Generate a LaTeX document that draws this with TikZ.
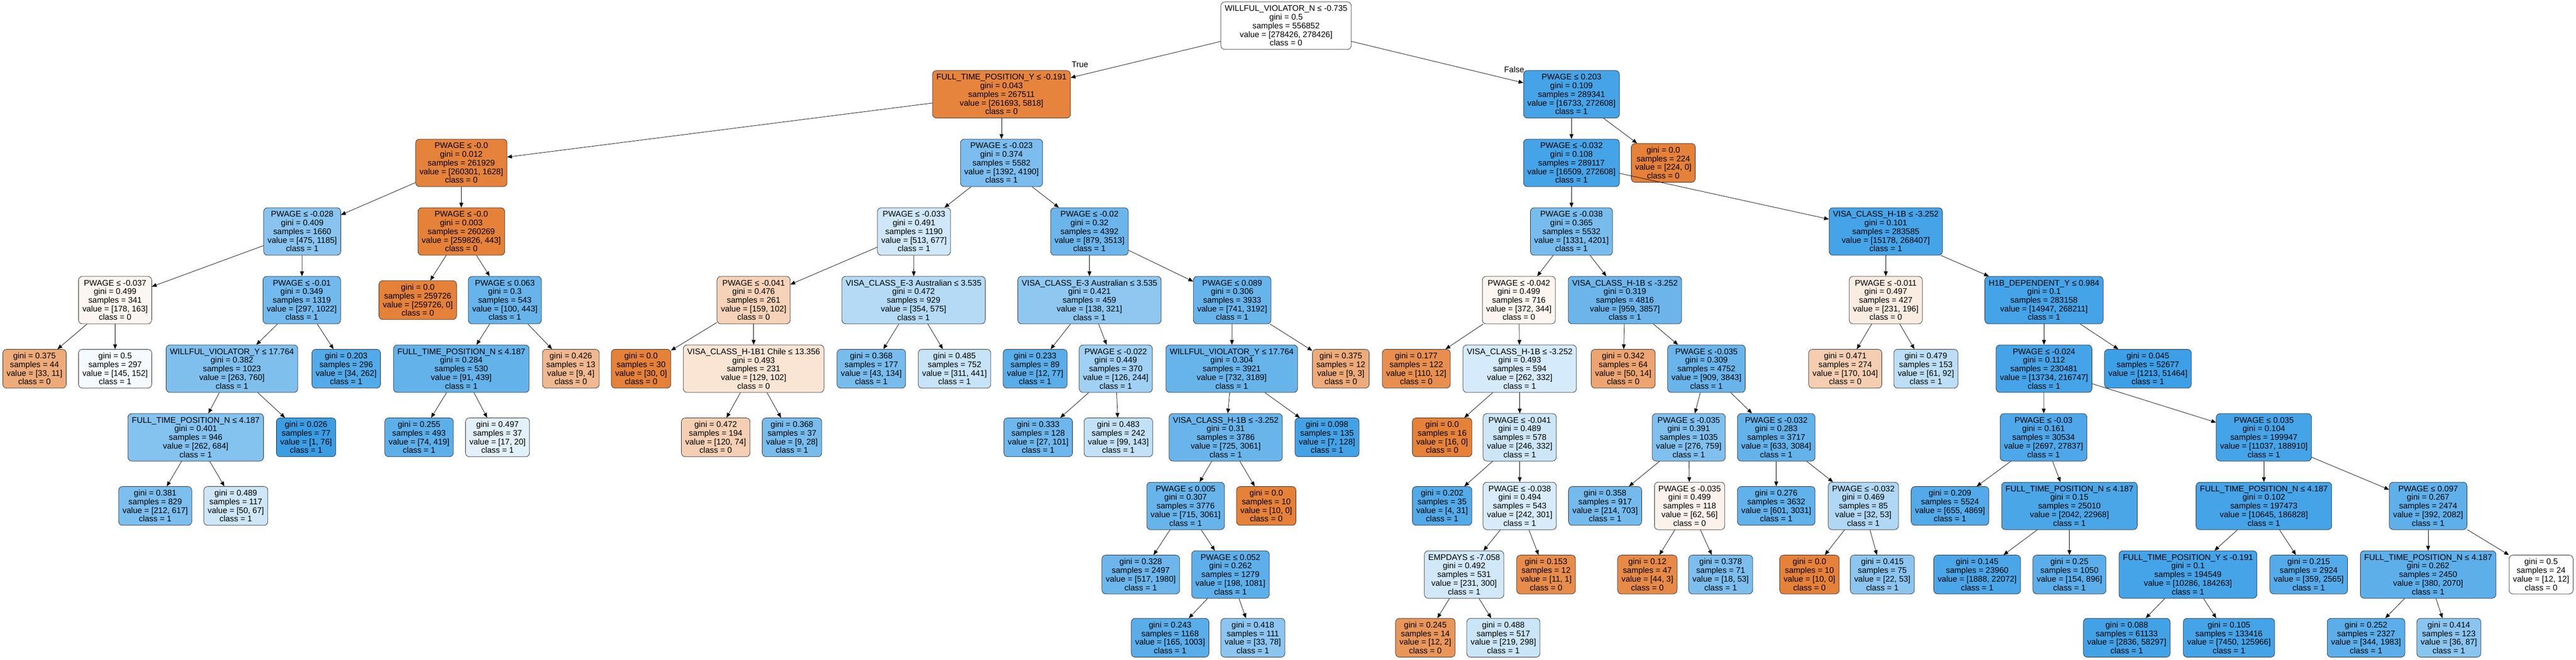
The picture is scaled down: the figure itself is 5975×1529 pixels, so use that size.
\documentclass[tikz,border=0pt]{standalone}
\usepackage{fontspec}
\usepackage{xcolor}
\usepackage{tikz}
\usetikzlibrary{arrows.meta}

\newfontfamily\treefont{Liberation Sans}
\newcommand{\treefnt}{\treefont\fontsize{19}{20}\selectfont}
\definecolor{cls0}{HTML}{E58139}
\definecolor{cls1}{HTML}{399DE5}

\tikzset{
  split/.style={draw=black!85, line width=0.9pt, rounded corners=9pt, align=center,
    font=\treefnt, inner xsep=9pt, inner ysep=2pt, minimum height=110pt},
  leaf/.style={split, minimum height=90pt},
  edge/.style={-{Triangle[length=11pt,width=9pt]}, line width=0.9pt},
  elabel/.style={font=\treefnt, inner sep=0pt}
}

\begin{document}
\begin{tikzpicture}[x=1pt,y=-1pt]
  \fill[white] (0,0) rectangle (5975,1529);
  \useasboundingbox (0,0) rectangle (5975,1529);

  % level 0
  \node[split, fill=white] (R) at (2983,59.5) {WILLFUL\_VIOLATOR\_N ≤ -0.735\\gini = 0.5\\samples = 556852\\value = [278426, 278426]\\class = 0};

  % level 1
  \node[split, fill=cls0!98] (n1) at (2323,218.5) {FULL\_TIME\_POSITION\_Y ≤ -0.191\\gini = 0.043\\samples = 267511\\value = [261693, 5818]\\class = 0};
  \node[split, fill=cls1!94] (n2) at (3645,218.5) {PWAGE ≤ 0.203\\gini = 0.109\\samples = 289341\\value = [16733, 272608]\\class = 1};

  % level 2
  \node[split, fill=cls0!99] (n3) at (1070,377.5) {PWAGE ≤ -0.0\\gini = 0.012\\samples = 261929\\value = [260301, 1628]\\class = 0};
  \node[split, fill=cls1!67] (n4) at (2323,377.5) {PWAGE ≤ -0.023\\gini = 0.374\\samples = 5582\\value = [1392, 4190]\\class = 1};
  \node[split, fill=cls1!94] (n5) at (3645,377.5) {PWAGE ≤ -0.032\\gini = 0.108\\samples = 289117\\value = [16509, 272608]\\class = 1};
  \node[leaf, fill=cls0] (n6) at (3858,377.5) {gini = 0.0\\samples = 224\\value = [224, 0]\\class = 0};

  % level 3
  \node[split, fill=cls1!60] (n7) at (701,536.5) {PWAGE ≤ -0.028\\gini = 0.409\\samples = 1660\\value = [475, 1185]\\class = 1};
  \node[split, fill=cls0] (n8) at (1070,536.5) {PWAGE ≤ -0.0\\gini = 0.003\\samples = 260269\\value = [259826, 443]\\class = 0};
  \node[split, fill=cls1!24] (n9) at (2120,536.5) {PWAGE ≤ -0.033\\gini = 0.491\\samples = 1190\\value = [513, 677]\\class = 1};
  \node[split, fill=cls1!75] (n10) at (2527,536.5) {PWAGE ≤ -0.02\\gini = 0.32\\samples = 4392\\value = [879, 3513]\\class = 1};
  \node[split, fill=cls1!68] (n11) at (3645,536.5) {PWAGE ≤ -0.038\\gini = 0.365\\samples = 5532\\value = [1331, 4201]\\class = 1};
  \node[split, fill=cls1!94] (n12) at (4374,536.5) {VISA\_CLASS\_H-1B ≤ -3.252\\gini = 0.101\\samples = 283585\\value = [15178, 268407]\\class = 1};

  % level 4
  \node[split, fill=cls0!8] (n13) at (267,695.5) {PWAGE ≤ -0.037\\gini = 0.499\\samples = 341\\value = [178, 163]\\class = 0};
  \node[split, fill=cls1!71] (n14) at (700,695.5) {PWAGE ≤ -0.01\\gini = 0.349\\samples = 1319\\value = [297, 1022]\\class = 1};
  \node[leaf, fill=cls0] (n15) at (969,695.5) {gini = 0.0\\samples = 259726\\value = [259726, 0]\\class = 0};
  \node[split, fill=cls1!77] (n16) at (1171,695.5) {PWAGE ≤ 0.063\\gini = 0.3\\samples = 543\\value = [100, 443]\\class = 1};
  \node[split, fill=cls0!36] (n17) at (1748,695.5) {PWAGE ≤ -0.041\\gini = 0.476\\samples = 261\\value = [159, 102]\\class = 0};
  \node[split, fill=cls1!38] (n18) at (2119,695.5) {VISA\_CLASS\_E-3 Australian ≤ 3.535\\gini = 0.472\\samples = 929\\value = [354, 575]\\class = 1};
  \node[split, fill=cls1!57] (n19) at (2527,695.5) {VISA\_CLASS\_E-3 Australian ≤ 3.535\\gini = 0.421\\samples = 459\\value = [138, 321]\\class = 1};
  \node[split, fill=cls1!77] (n20) at (2858,695.5) {PWAGE ≤ 0.089\\gini = 0.306\\samples = 3933\\value = [741, 3192]\\class = 1};
  \node[split, fill=cls0!8] (n21) at (3523,695.5) {PWAGE ≤ -0.042\\gini = 0.499\\samples = 716\\value = [372, 344]\\class = 0};
  \node[split, fill=cls1!75] (n22) at (3769,695.5) {VISA\_CLASS\_H-1B ≤ -3.252\\gini = 0.319\\samples = 4816\\value = [959, 3857]\\class = 1};
  \node[split, fill=cls0!15] (n23) at (4374,695.5) {PWAGE ≤ -0.011\\gini = 0.497\\samples = 427\\value = [231, 196]\\class = 0};
  \node[split, fill=cls1!94] (n24) at (4741,695.5) {H1B\_DEPENDENT\_Y ≤ 0.984\\gini = 0.1\\samples = 283158\\value = [14947, 268211]\\class = 1};

  % level 5
  \node[leaf, fill=cls0!67] (n25) at (80,854.5) {gini = 0.375\\samples = 44\\value = [33, 11]\\class = 0};
  \node[leaf, fill=cls1!5] (n26) at (267,854.5) {gini = 0.5\\samples = 297\\value = [145, 152]\\class = 1};
  \node[split, fill=cls1!65] (n27) at (538,854.5) {WILLFUL\_VIOLATOR\_Y ≤ 17.764\\gini = 0.382\\samples = 1023\\value = [263, 760]\\class = 1};
  \node[leaf, fill=cls1!87] (n28) at (803,854.5) {gini = 0.203\\samples = 296\\value = [34, 262]\\class = 1};
  \node[split, fill=cls1!79] (n29) at (1070,854.5) {FULL\_TIME\_POSITION\_N ≤ 4.187\\gini = 0.284\\samples = 530\\value = [91, 439]\\class = 1};
  \node[leaf, fill=cls0!56] (n30) at (1324,854.5) {gini = 0.426\\samples = 13\\value = [9, 4]\\class = 0};
  \node[leaf, fill=cls0] (n31) at (1487,854.5) {gini = 0.0\\samples = 30\\value = [30, 0]\\class = 0};
  \node[split, fill=cls0!21] (n32) at (1748,854.5) {VISA\_CLASS\_H-1B1 Chile ≤ 13.356\\gini = 0.493\\samples = 231\\value = [129, 102]\\class = 0};
  \node[leaf, fill=cls1!68] (n33) at (2021,854.5) {gini = 0.368\\samples = 177\\value = [43, 134]\\class = 1};
  \node[leaf, fill=cls1!29] (n34) at (2214,854.5) {gini = 0.485\\samples = 752\\value = [311, 441]\\class = 1};
  \node[leaf, fill=cls1!84] (n35) at (2401,854.5) {gini = 0.233\\samples = 89\\value = [12, 77]\\class = 1};
  \node[split, fill=cls1!48] (n36) at (2588,854.5) {PWAGE ≤ -0.022\\gini = 0.449\\samples = 370\\value = [126, 244]\\class = 1};
  \node[split, fill=cls1!77] (n37) at (2857,854.5) {WILLFUL\_VIOLATOR\_Y ≤ 17.764\\gini = 0.304\\samples = 3921\\value = [732, 3189]\\class = 1};
  \node[leaf, fill=cls0!67] (n38) at (3110,854.5) {gini = 0.375\\samples = 12\\value = [9, 3]\\class = 0};
  \node[leaf, fill=cls0!89] (n39) at (3285,854.5) {gini = 0.177\\samples = 122\\value = [110, 12]\\class = 0};
  \node[split, fill=cls1!21] (n40) at (3525,854.5) {VISA\_CLASS\_H-1B ≤ -3.252\\gini = 0.493\\samples = 594\\value = [262, 332]\\class = 1};
  \node[leaf, fill=cls0!72] (n41) at (3765,854.5) {gini = 0.342\\samples = 64\\value = [50, 14]\\class = 0};
  \node[split, fill=cls1!76] (n42) at (3958,854.5) {PWAGE ≤ -0.035\\gini = 0.309\\samples = 4752\\value = [909, 3843]\\class = 1};
  \node[leaf, fill=cls0!39] (n43) at (4280,854.5) {gini = 0.471\\samples = 274\\value = [170, 104]\\class = 0};
  \node[leaf, fill=cls1!34] (n44) at (4467,854.5) {gini = 0.479\\samples = 153\\value = [61, 92]\\class = 1};
  \node[split, fill=cls1!94] (n45) at (4741,854.5) {PWAGE ≤ -0.024\\gini = 0.112\\samples = 230481\\value = [13734, 216747]\\class = 1};
  \node[leaf, fill=cls1!98] (n46) at (4982,854.5) {gini = 0.045\\samples = 52677\\value = [1213, 51464]\\class = 1};

  % level 6
  \node[split, fill=cls1!62] (n47) at (454,1013.5) {FULL\_TIME\_POSITION\_N ≤ 4.187\\gini = 0.401\\samples = 946\\value = [262, 684]\\class = 1};
  \node[leaf, fill=cls1!99] (n48) at (710,1013.5) {gini = 0.026\\samples = 77\\value = [1, 76]\\class = 1};
  \node[leaf, fill=cls1!82] (n49) at (972,1013.5) {gini = 0.255\\samples = 493\\value = [74, 419]\\class = 1};
  \node[leaf, fill=cls1!15] (n50) at (1154,1013.5) {gini = 0.497\\samples = 37\\value = [17, 20]\\class = 1};
  \node[leaf, fill=cls0!38] (n51) at (1660,1013.5) {gini = 0.472\\samples = 194\\value = [120, 74]\\class = 0};
  \node[leaf, fill=cls1!68] (n52) at (1837,1013.5) {gini = 0.368\\samples = 37\\value = [9, 28]\\class = 1};
  \node[leaf, fill=cls1!73] (n53) at (2408,1013.5) {gini = 0.333\\samples = 128\\value = [27, 101]\\class = 1};
  \node[leaf, fill=cls1!31] (n54) at (2594,1013.5) {gini = 0.483\\samples = 242\\value = [99, 143]\\class = 1};
  \node[split, fill=cls1!76] (n55) at (2843,1013.5) {VISA\_CLASS\_H-1B ≤ -3.252\\gini = 0.31\\samples = 3786\\value = [725, 3061]\\class = 1};
  \node[leaf, fill=cls1!95] (n56) at (3078,1013.5) {gini = 0.098\\samples = 135\\value = [7, 128]\\class = 1};
  \node[leaf, fill=cls0] (n57) at (3345,1013.5) {gini = 0.0\\samples = 16\\value = [16, 0]\\class = 0};
  \node[split, fill=cls1!26] (n58) at (3525,1013.5) {PWAGE ≤ -0.041\\gini = 0.489\\samples = 578\\value = [246, 332]\\class = 1};
  \node[split, fill=cls1!64] (n59) at (3917,1013.5) {PWAGE ≤ -0.035\\gini = 0.391\\samples = 1035\\value = [276, 759]\\class = 1};
  \node[split, fill=cls1!79] (n60) at (4120,1013.5) {PWAGE ≤ -0.032\\gini = 0.283\\samples = 3717\\value = [633, 3084]\\class = 1};
  \node[split, fill=cls1!90] (n61) at (4740,1013.5) {PWAGE ≤ -0.03\\gini = 0.161\\samples = 30534\\value = [2697, 27837]\\class = 1};
  \node[split, fill=cls1!94] (n62) at (5251,1013.5) {PWAGE ≤ 0.035\\gini = 0.104\\samples = 199947\\value = [11037, 188910]\\class = 1};

  % level 7
  \node[leaf, fill=cls1!66] (n63) at (360,1172.5) {gini = 0.381\\samples = 829\\value = [212, 617]\\class = 1};
  \node[leaf, fill=cls1!25] (n64) at (547,1172.5) {gini = 0.489\\samples = 117\\value = [50, 67]\\class = 1};
  \node[split, fill=cls1!77] (n65) at (2750,1172.5) {PWAGE ≤ 0.005\\gini = 0.307\\samples = 3776\\value = [715, 3061]\\class = 1};
  \node[leaf, fill=cls0] (n66) at (2937,1172.5) {gini = 0.0\\samples = 10\\value = [10, 0]\\class = 0};
  \node[leaf, fill=cls1!87] (n67) at (3345,1172.5) {gini = 0.202\\samples = 35\\value = [4, 31]\\class = 1};
  \node[split, fill=cls1!20] (n68) at (3525,1172.5) {PWAGE ≤ -0.038\\gini = 0.494\\samples = 543\\value = [242, 301]\\class = 1};
  \node[leaf, fill=cls1!70] (n69) at (3723,1172.5) {gini = 0.358\\samples = 917\\value = [214, 703]\\class = 1};
  \node[split, fill=cls0!10] (n70) at (3919,1172.5) {PWAGE ≤ -0.035\\gini = 0.499\\samples = 118\\value = [62, 56]\\class = 0};
  \node[leaf, fill=cls1!80] (n71) at (4120,1172.5) {gini = 0.276\\samples = 3632\\value = [601, 3031]\\class = 1};
  \node[split, fill=cls1!40] (n72) at (4322,1172.5) {PWAGE ≤ -0.032\\gini = 0.469\\samples = 85\\value = [32, 53]\\class = 1};
  \node[leaf, fill=cls1!87] (n73) at (4523,1172.5) {gini = 0.209\\samples = 5524\\value = [655, 4869]\\class = 1};
  \node[split, fill=cls1!91] (n74) at (4800,1172.5) {FULL\_TIME\_POSITION\_N ≤ 4.187\\gini = 0.15\\samples = 25010\\value = [2042, 22968]\\class = 1};
  \node[split, fill=cls1!94] (n75) at (5251,1172.5) {FULL\_TIME\_POSITION\_N ≤ 4.187\\gini = 0.102\\samples = 197473\\value = [10645, 186828]\\class = 1};
  \node[split, fill=cls1!81] (n76) at (5632,1172.5) {PWAGE ≤ 0.097\\gini = 0.267\\samples = 2474\\value = [392, 2082]\\class = 1};

  % level 8
  \node[leaf, fill=cls1!74] (n77) at (2646,1331.5) {gini = 0.328\\samples = 2497\\value = [517, 1980]\\class = 1};
  \node[split, fill=cls1!82] (n78) at (2854,1331.5) {PWAGE ≤ 0.052\\gini = 0.262\\samples = 1279\\value = [198, 1081]\\class = 1};
  \node[split, fill=cls1!23] (n79) at (3396,1331.5) {EMPDAYS ≤ -7.058\\gini = 0.492\\samples = 531\\value = [231, 300]\\class = 1};
  \node[leaf, fill=cls0!91] (n80) at (3586,1331.5) {gini = 0.153\\samples = 12\\value = [11, 1]\\class = 0};
  \node[leaf, fill=cls0!93] (n81) at (3821,1331.5) {gini = 0.12\\samples = 47\\value = [44, 3]\\class = 0};
  \node[leaf, fill=cls1!66] (n82) at (3991,1331.5) {gini = 0.378\\samples = 71\\value = [18, 53]\\class = 1};
  \node[leaf, fill=cls0] (n83) at (4197,1331.5) {gini = 0.0\\samples = 10\\value = [10, 0]\\class = 0};
  \node[leaf, fill=cls1!58] (n84) at (4366,1331.5) {gini = 0.415\\samples = 75\\value = [22, 53]\\class = 1};
  \node[leaf, fill=cls1!91] (n85) at (4586,1331.5) {gini = 0.145\\samples = 23960\\value = [1888, 22072]\\class = 1};
  \node[leaf, fill=cls1!83] (n86) at (4800,1331.5) {gini = 0.25\\samples = 1050\\value = [154, 896]\\class = 1};
  \node[split, fill=cls1!94] (n87) at (5075,1331.5) {FULL\_TIME\_POSITION\_Y ≤ -0.191\\gini = 0.1\\samples = 194549\\value = [10286, 184263]\\class = 1};
  \node[leaf, fill=cls1!86] (n88) at (5355,1331.5) {gini = 0.215\\samples = 2924\\value = [359, 2565]\\class = 1};
  \node[split, fill=cls1!82] (n89) at (5632,1331.5) {FULL\_TIME\_POSITION\_N ≤ 4.187\\gini = 0.262\\samples = 2450\\value = [380, 2070]\\class = 1};
  \node[leaf, fill=white] (n90) at (5894,1331.5) {gini = 0.5\\samples = 24\\value = [12, 12]\\class = 0};

  % level 9
  \node[leaf, fill=cls1!84] (n91) at (2714,1478) {gini = 0.243\\samples = 1168\\value = [165, 1003]\\class = 1};
  \node[leaf, fill=cls1!58] (n92) at (2906,1478) {gini = 0.418\\samples = 111\\value = [33, 78]\\class = 1};
  \node[leaf, fill=cls0!83] (n93) at (3306,1478) {gini = 0.245\\samples = 14\\value = [12, 2]\\class = 0};
  \node[leaf, fill=cls1!27] (n94) at (3487,1478) {gini = 0.488\\samples = 517\\value = [219, 298]\\class = 1};
  \node[leaf, fill=cls1!95] (n95) at (4933,1478) {gini = 0.088\\samples = 61133\\value = [2836, 58297]\\class = 1};
  \node[leaf, fill=cls1!94] (n96) at (5170,1478) {gini = 0.105\\samples = 133416\\value = [7450, 125966]\\class = 1};
  \node[leaf, fill=cls1!83] (n97) at (5488,1478) {gini = 0.252\\samples = 2327\\value = [344, 1983]\\class = 1};
  \node[leaf, fill=cls1!59] (n98) at (5680,1478) {gini = 0.414\\samples = 123\\value = [36, 87]\\class = 1};

  % edges
  \draw[edge] (R) -- (n1);    \draw[edge] (R) -- (n2);
  \node[elabel] (ltrue) at (2505,150) {True};
  \node[elabel] (lfalse) at (3512,161) {False};
  \draw[edge] (n1) -- (n3);   \draw[edge] (n1) -- (n4);
  \draw[edge] (n2) -- (n5);   \draw[edge] (n2) -- (n6);
  \draw[edge] (n3) -- (n7);   \draw[edge] (n3) -- (n8);
  \draw[edge] (n4) -- (n9);   \draw[edge] (n4) -- (n10);
  \draw[edge] (n5) -- (n11);  \draw[edge] (n5) -- (n12);
  \draw[edge] (n7) -- (n13);  \draw[edge] (n7) -- (n14);
  \draw[edge] (n8) -- (n15);  \draw[edge] (n8) -- (n16);
  \draw[edge] (n9) -- (n17);  \draw[edge] (n9) -- (n18);
  \draw[edge] (n10) -- (n19); \draw[edge] (n10) -- (n20);
  \draw[edge] (n11) -- (n21); \draw[edge] (n11) -- (n22);
  \draw[edge] (n12) -- (n23); \draw[edge] (n12) -- (n24);
  \draw[edge] (n13) -- (n25); \draw[edge] (n13) -- (n26);
  \draw[edge] (n14) -- (n27); \draw[edge] (n14) -- (n28);
  \draw[edge] (n16) -- (n29); \draw[edge] (n16) -- (n30);
  \draw[edge] (n17) -- (n31); \draw[edge] (n17) -- (n32);
  \draw[edge] (n18) -- (n33); \draw[edge] (n18) -- (n34);
  \draw[edge] (n19) -- (n35); \draw[edge] (n19) -- (n36);
  \draw[edge] (n20) -- (n37); \draw[edge] (n20) -- (n38);
  \draw[edge] (n21) -- (n39); \draw[edge] (n21) -- (n40);
  \draw[edge] (n22) -- (n41); \draw[edge] (n22) -- (n42);
  \draw[edge] (n23) -- (n43); \draw[edge] (n23) -- (n44);
  \draw[edge] (n24) -- (n45); \draw[edge] (n24) -- (n46);
  \draw[edge] (n27) -- (n47); \draw[edge] (n27) -- (n48);
  \draw[edge] (n29) -- (n49); \draw[edge] (n29) -- (n50);
  \draw[edge] (n32) -- (n51); \draw[edge] (n32) -- (n52);
  \draw[edge] (n36) -- (n53); \draw[edge] (n36) -- (n54);
  \draw[edge] (n37) -- (n55); \draw[edge] (n37) -- (n56);
  \draw[edge] (n40) -- (n57); \draw[edge] (n40) -- (n58);
  \draw[edge] (n42) -- (n59); \draw[edge] (n42) -- (n60);
  \draw[edge] (n45) -- (n61); \draw[edge] (n45) -- (n62);
  \draw[edge] (n47) -- (n63); \draw[edge] (n47) -- (n64);
  \draw[edge] (n55) -- (n65); \draw[edge] (n55) -- (n66);
  \draw[edge] (n58) -- (n67); \draw[edge] (n58) -- (n68);
  \draw[edge] (n59) -- (n69); \draw[edge] (n59) -- (n70);
  \draw[edge] (n60) -- (n71); \draw[edge] (n60) -- (n72);
  \draw[edge] (n61) -- (n73); \draw[edge] (n61) -- (n74);
  \draw[edge] (n62) -- (n75); \draw[edge] (n62) -- (n76);
  \draw[edge] (n65) -- (n77); \draw[edge] (n65) -- (n78);
  \draw[edge] (n68) -- (n79); \draw[edge] (n68) -- (n80);
  \draw[edge] (n70) -- (n81); \draw[edge] (n70) -- (n82);
  \draw[edge] (n72) -- (n83); \draw[edge] (n72) -- (n84);
  \draw[edge] (n74) -- (n85); \draw[edge] (n74) -- (n86);
  \draw[edge] (n75) -- (n87); \draw[edge] (n75) -- (n88);
  \draw[edge] (n76) -- (n89); \draw[edge] (n76) -- (n90);
  \draw[edge] (n78) -- (n91); \draw[edge] (n78) -- (n92);
  \draw[edge] (n79) -- (n93); \draw[edge] (n79) -- (n94);
  \draw[edge] (n87) -- (n95); \draw[edge] (n87) -- (n96);
  \draw[edge] (n89) -- (n97); \draw[edge] (n89) -- (n98);
\end{tikzpicture}
\end{document}
